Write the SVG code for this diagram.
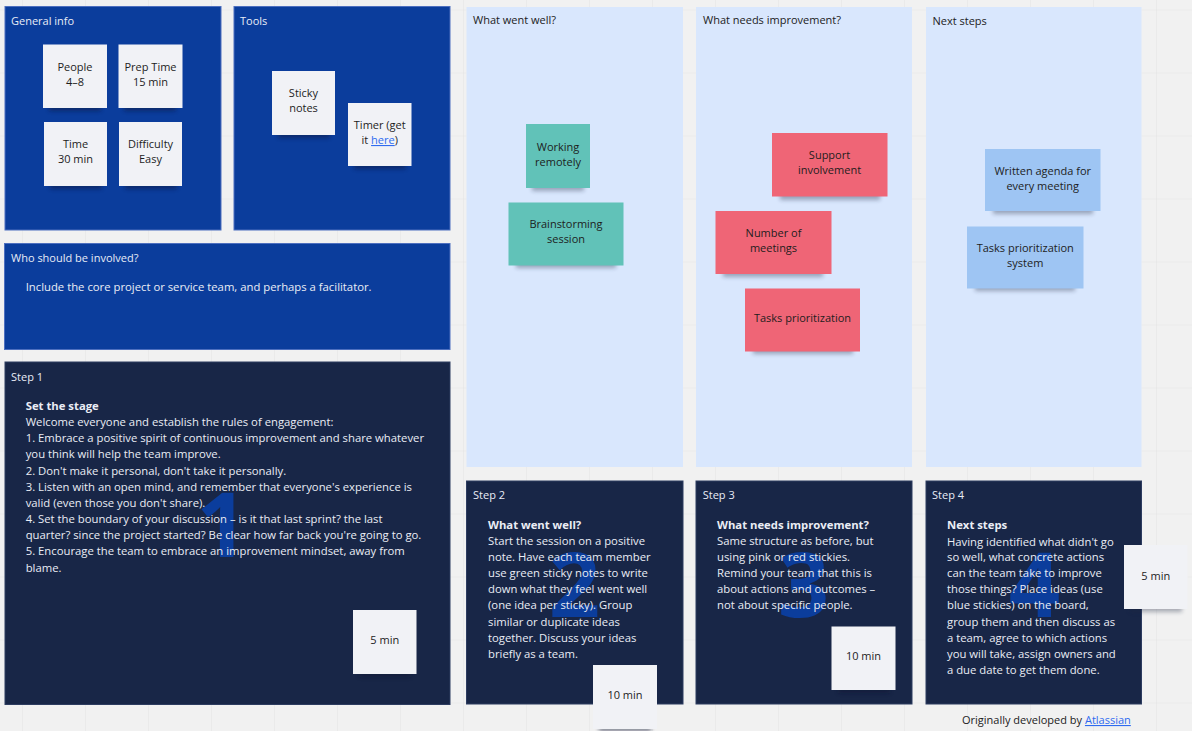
<svg xmlns="http://www.w3.org/2000/svg" width="1192" height="731" viewBox="0 0 1192 731">
<defs>
<pattern id="grid" x="22" y="9.5" width="63" height="63" patternUnits="userSpaceOnUse">
<rect width="63" height="63" fill="#f1f1f1"/>
<path d="M0 0H63M0 0V63" stroke="#e3e3e3" stroke-width="1" fill="none"/>
</pattern>
<filter id="blur" x="-20%" y="-100%" width="140%" height="300%"><feGaussianBlur stdDeviation="2.2"/></filter>
<style>
text{font-family:"Open Sans","Noto Sans","DejaVu Sans",sans-serif;font-size:11px}
.pnl{fill:#0b3d9c;stroke:#4d6fbf;stroke-width:1}
.dark{fill:#182647;stroke:#2d3c60;stroke-width:1}
.col{fill:#d9e7fd}
.ptitle{fill:#e8ecf6}
.body{fill:#eaedf5;font-size:11.3px}
.bold{font-weight:700}
.ctitle{fill:#222}
.st{fill:#f1f2f6}
.teal{fill:#61c2b8}
.pink{fill:#ef6576}
.blue{fill:#9ec5f3}
.sh{fill:#0a1530;opacity:.45;filter:url(#blur)}
.shl{fill:#1a2540;opacity:.35;filter:url(#blur)}
.stt{fill:#1d1d1d;text-anchor:middle}
.num{font-size:90px;font-weight:700;fill:#0b3d9c;text-anchor:middle}
</style>
</defs>
<rect width="1192" height="731" fill="url(#grid)"/>

<g id="general-info">
<rect class="pnl" x="5" y="6.5" width="216" height="223.5"/>
<text class="ptitle" x="11" y="25">General info</text>
<g id="sticky-people"><rect class="sh" x="49" y="101" width="52" height="10"/><rect class="st" x="43" y="44.5" width="64" height="63.5"/><text class="stt" x="75" y="71">People</text><text class="stt" x="75" y="86">4–8</text></g>
<g id="sticky-prep"><rect class="sh" x="124" y="101" width="52" height="10"/><rect class="st" x="118.5" y="44.5" width="64" height="63.5"/><text class="stt" x="150.5" y="71">Prep Time</text><text class="stt" x="150.5" y="86">15 min</text></g>
<g id="sticky-time"><rect class="sh" x="50" y="179" width="52" height="10"/><rect class="st" x="44" y="122" width="63" height="64"/><text class="stt" x="75.5" y="148">Time</text><text class="stt" x="75.5" y="163">30 min</text></g>
<g id="sticky-difficulty"><rect class="sh" x="125" y="179" width="52" height="10"/><rect class="st" x="119" y="122" width="63" height="64"/><text class="stt" x="150.5" y="148">Difficulty</text><text class="stt" x="150.5" y="163">Easy</text></g>
</g>

<g id="tools">
<rect class="pnl" x="234" y="6.5" width="216" height="223.5"/>
<text class="ptitle" x="240" y="25">Tools</text>
<g id="sticky-notes"><rect class="sh" x="278" y="128" width="52" height="10"/><rect class="st" x="272" y="71" width="63" height="64"/><text class="stt" x="303.5" y="97">Sticky</text><text class="stt" x="303.5" y="112">notes</text></g>
<g id="sticky-timer"><rect class="sh" x="354" y="159" width="52" height="10"/><rect class="st" x="348" y="103" width="63.5" height="63"/><text class="stt" x="379.75" y="129">Timer (get</text><text class="stt" x="379.75" y="144">it <tspan fill="#2f6bf0" text-decoration="underline">here</tspan>)</text></g>
</g>

<g id="who">
<rect class="pnl" x="4.5" y="243.5" width="445.5" height="106"/>
<text class="ptitle" x="11" y="262">Who should be involved?</text>
<text class="body" x="25.7" y="291">Include the core project or service team, and perhaps a facilitator.</text>
</g>

<g id="step1">
<rect class="dark" x="5" y="362" width="445" height="342.5"/>
<text class="num" x="222" y="557">1</text>
<text class="ptitle" x="11" y="381">Step 1</text>
<text class="body" x="25.7"><tspan class="bold" y="410">Set the stage</tspan><tspan x="25.7" y="426">Welcome everyone and establish the rules of engagement:</tspan><tspan x="25.7" y="442">1. Embrace a positive spirit of continuous improvement and share whatever</tspan><tspan x="25.7" y="458">you think will help the team improve.</tspan><tspan x="25.7" y="475">2. Don't make it personal, don't take it personally.</tspan><tspan x="25.7" y="491">3. Listen with an open mind, and remember that everyone's experience is</tspan><tspan x="25.7" y="507">valid (even those you don't share).</tspan><tspan x="25.7" y="523">4. Set the boundary of your discussion – is it that last sprint? the last</tspan><tspan x="25.7" y="539">quarter? since the project started? Be clear how far back you're going to go.</tspan><tspan x="25.7" y="555">5. Encourage the team to embrace an improvement mindset, away from</tspan><tspan x="25.7" y="572">blame.</tspan></text>
<g id="sticky-5min-1"><rect class="sh" x="359" y="667" width="52" height="10"/><rect class="st" x="353" y="610" width="63.5" height="64"/><text class="stt" x="384.75" y="644">5 min</text></g>
</g>

<g id="col-went-well">
<rect class="col" x="466.5" y="7" width="216.5" height="460"/>
<text class="ctitle" x="473" y="24">What went well?</text>
<g id="sticky-working-remotely"><rect class="shl" x="532" y="181" width="52" height="10"/><rect class="teal" x="526" y="124" width="64" height="64"/><text class="stt" x="558" y="151">Working</text><text class="stt" x="558" y="166">remotely</text></g>
<g id="sticky-brainstorming"><rect class="shl" x="516" y="258" width="100" height="10"/><rect class="teal" x="508.5" y="202.5" width="115" height="63"/><text class="stt" x="566" y="228">Brainstorming</text><text class="stt" x="566" y="243">session</text></g>
</g>

<g id="col-needs-improvement">
<rect class="col" x="696" y="7" width="216" height="460"/>
<text class="ctitle" x="703" y="24">What needs improvement?</text>
<g id="sticky-support"><rect class="shl" x="780" y="190" width="100" height="10"/><rect class="pink" x="772" y="133" width="115.5" height="63.5"/><text class="stt" x="829.5" y="159">Support</text><text class="stt" x="829.5" y="174">involvement</text></g>
<g id="sticky-meetings"><rect class="shl" x="723" y="267" width="100" height="10"/><rect class="pink" x="715.5" y="211" width="116" height="63"/><text class="stt" x="773.5" y="237">Number of</text><text class="stt" x="773.5" y="252">meetings</text></g>
<g id="sticky-tasks"><rect class="shl" x="753" y="344" width="100" height="10"/><rect class="pink" x="745" y="288.5" width="115" height="63"/><text class="stt" x="802.5" y="322">Tasks prioritization</text></g>
</g>

<g id="col-next-steps">
<rect class="col" x="926" y="7" width="215.5" height="460"/>
<text class="ctitle" x="932.5" y="25">Next steps</text>
<g id="sticky-agenda"><rect class="shl" x="993" y="204" width="100" height="10"/><rect class="blue" x="985" y="149" width="115.5" height="62"/><text class="stt" x="1042.75" y="175">Written agenda for</text><text class="stt" x="1042.75" y="190">every meeting</text></g>
<g id="sticky-prioritization-system"><rect class="shl" x="975" y="281" width="100" height="10"/><rect class="blue" x="967" y="226.5" width="116.5" height="62"/><text class="stt" x="1025.25" y="252">Tasks prioritization</text><text class="stt" x="1025.25" y="267">system</text></g>
</g>

<g id="step2">
<rect class="dark" x="466.5" y="481" width="216.5" height="223"/>
<text class="num" x="574.5" y="617">2</text>
<text class="ptitle" x="473" y="499">Step 2</text>
<text class="body" x="488"><tspan class="bold" y="528.5">What went well?</tspan><tspan x="488" y="545">Start the session on a positive</tspan><tspan x="488" y="561">note. Have each team member</tspan><tspan x="488" y="577">use green sticky notes to write</tspan><tspan x="488" y="593">down what they feel went well</tspan><tspan x="488" y="609">(one idea per sticky). Group</tspan><tspan x="488" y="626">similar or duplicate ideas</tspan><tspan x="488" y="642">together. Discuss your ideas</tspan><tspan x="488" y="658">briefly as a team.</tspan></text>
</g>

<g id="step3">
<rect class="dark" x="696" y="481" width="216" height="223"/>
<text class="num" x="803.5" y="617">3</text>
<text class="ptitle" x="702.7" y="499">Step 3</text>
<text class="body" x="717"><tspan class="bold" y="528.5">What needs improvement?</tspan><tspan x="717" y="545">Same structure as before, but</tspan><tspan x="717" y="561">using pink or red stickies.</tspan><tspan x="717" y="577">Remind your team that this is</tspan><tspan x="717" y="593">about actions and outcomes –</tspan><tspan x="717" y="609">not about specific people.</tspan></text>
<g id="sticky-10min-3"><rect class="sh" x="838" y="683" width="52" height="10"/><rect class="st" x="831.5" y="626.5" width="64" height="63.5"/><text class="stt" x="863.5" y="660">10 min</text></g>
</g>

<g id="step4">
<rect class="dark" x="926" y="481" width="215.5" height="223"/>
<text class="num" x="1034.5" y="617">4</text>
<text class="ptitle" x="932" y="499">Step 4</text>
<text class="body" x="947"><tspan class="bold" y="529">Next steps</tspan><tspan x="947" y="545.5">Having identified what didn't go</tspan><tspan x="947" y="561">so well, what concrete actions</tspan><tspan x="947" y="577">can the team take to improve</tspan><tspan x="947" y="593">those things? Place ideas (use</tspan><tspan x="947" y="609">blue stickies) on the board,</tspan><tspan x="947" y="626">group them and then discuss as</tspan><tspan x="947" y="642">a team, agree to which actions</tspan><tspan x="947" y="658">you will take, assign owners and</tspan><tspan x="947" y="674">a due date to get them done.</tspan></text>
</g>

<g id="sticky-10min-2"><rect class="sh" x="599" y="722" width="52" height="10"/><rect class="st" x="593" y="665" width="64" height="64"/><text class="stt" x="625" y="699">10 min</text></g>
<g id="sticky-5min-4"><rect class="shl" x="1130" y="602" width="52" height="10"/><rect class="st" x="1124" y="545" width="63.5" height="64"/><text class="stt" x="1155.75" y="580">5 min</text></g>

<g id="credit">
<text x="962" y="724" fill="#222">Originally developed by <tspan fill="#2f6bf0" text-decoration="underline">Atlassian</tspan></text>
</g>

<g id="connectors"/>
</svg>
